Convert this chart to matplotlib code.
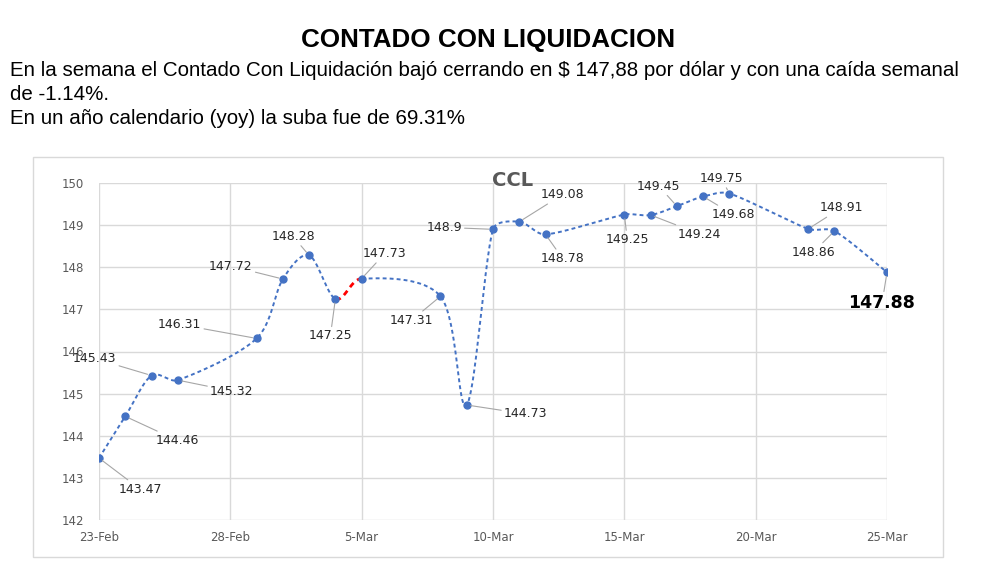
import numpy as np
import matplotlib
matplotlib.use("Agg")
import matplotlib.pyplot as plt
import matplotlib.dates as mdates
from matplotlib.patches import Rectangle
from matplotlib import font_manager

# ---------------- data ----------------
dates = ["2021-02-23", "2021-02-24", "2021-02-25", "2021-02-26", "2021-03-01",
         "2021-03-02", "2021-03-03", "2021-03-04", "2021-03-05", "2021-03-08",
         "2021-03-09", "2021-03-10", "2021-03-11", "2021-03-12", "2021-03-15",
         "2021-03-16", "2021-03-17", "2021-03-18", "2021-03-19", "2021-03-22",
         "2021-03-23", "2021-03-25"]
values = [143.47, 144.46, 145.43, 145.32, 146.31, 147.72, 148.28, 147.25, 147.73,
          147.31, 144.73, 148.9, 149.08, 148.78, 149.25, 149.24, 149.45, 149.68,
          149.75, 148.91, 148.86, 147.88]
value_labels = ["143.47", "144.46", "145.43", "145.32", "146.31", "147.72", "148.28",
                "147.25", "147.73", "147.31", "144.73", "148.9", "149.08", "148.78",
                "149.25", "149.24", "149.45", "149.68", "149.75", "148.91", "148.86",
                "147.88"]
tick_dates = ["2021-02-23", "2021-02-28", "2021-03-05", "2021-03-10",
              "2021-03-15", "2021-03-20", "2021-03-25"]
tick_labels = ["23-Feb", "28-Feb", "5-Mar", "10-Mar", "15-Mar", "20-Mar", "25-Mar"]
y_ticks = [142, 143, 144, 145, 146, 147, 148, 149, 150]
highlight_segment = 7  # segment from 4-Mar to 5-Mar drawn in red

title = "CONTADO CON LIQUIDACION"
body_lines = ["En la semana el Contado Con Liquidación bajó cerrando en $ 147,88 por dólar y con una caída semanal",
              "de -1.14%.",
              "En un año calendario (yoy) la suba fue de 69.31%"]
chart_title = "CCL"

# ---------------- layout (pixel offsets of labels) ----------------
label_offsets = [(41, -31), (52, -24), (-57, 17), (54, -11), (-77, 14), (-52, 13),
                 (-16, 19), (-5, -37), (23, 25), (-29, -24), (59, -9), (-49, 2),
                 (43, 27), (17, -24), (3, -25), (49, -19), (-18, 20), (30, -18),
                 (-8, 15), (33, 21), (-21, -21), (-5, -31)]

W, H = 981, 578
fig = plt.figure(figsize=(W / 100, H / 100), dpi=100)
fig.patch.set_facecolor("white")

names = {f.name for f in font_manager.fontManager.ttflist}
head_font = "Liberation Sans Narrow" if "Liberation Sans Narrow" in names else "Liberation Sans"
lab_font = "DejaVu Sans"

x = mdates.date2num(np.array(dates, dtype="datetime64[D]"))
xt = mdates.date2num(np.array(tick_dates, dtype="datetime64[D]"))

ax = fig.add_axes([99 / W, 1 - 520 / H, (887 - 99) / W, (520 - 183) / H])
ax.set_xlim(xt[0], xt[-1])
ax.set_ylim(142, 150)
ax.set_xticks(xt)
ax.set_xticklabels(tick_labels)
ax.set_yticks(y_ticks)
ax.tick_params(length=0, labelsize=8.5, colors="#595959", pad=8)
ax.tick_params(axis="y", pad=11)
for lab in ax.get_xticklabels() + ax.get_yticklabels():
    lab.set_fontfamily(lab_font)
for s in ax.spines.values():
    s.set_visible(False)
ax.grid(True, color="#d9d9d9", lw=1)
ax.set_axisbelow(True)

# smoothed curve (Catmull-Rom Bezier in display space, arms clamped to segment length)
pts = ax.transData.transform(np.column_stack([x, values]))
n = len(pts)


def clamp(v, m):
    d = np.hypot(*v)
    return v * (m / d) if d > m else v


segs = []
for i in range(n - 1):
    p0 = pts[i - 1] if i > 0 else pts[i]
    p1 = pts[i]
    p2 = pts[i + 1]
    p3 = pts[i + 2] if i + 2 < n else pts[i + 1]
    L = np.hypot(*(p2 - p1))
    c1 = p1 + clamp((p2 - p0) / 6.0, L / 3.0)
    c2 = p2 - clamp((p3 - p1) / 6.0, L / 3.0)
    t = np.linspace(0, 1, 40)[:, None]
    b = ((1 - t) ** 3) * p1 + 3 * ((1 - t) ** 2) * t * c1 + 3 * (1 - t) * t ** 2 * c2 + t ** 3 * p2
    segs.append(ax.transData.inverted().transform(b))

blue = "#4472C4"
before = np.vstack(segs[:highlight_segment])
after = np.vstack(segs[highlight_segment + 1:])
for seg in (before, after):
    ax.plot(seg[:, 0], seg[:, 1], color=blue, lw=1.4, dashes=(2.0, 1.6), zorder=2)
red = segs[highlight_segment]
ax.plot(red[:, 0], red[:, 1], color="#FF0000", lw=2.0, dashes=(2.0, 1.6), zorder=2)
ax.plot(x, values, "o", color=blue, ms=5, zorder=3)

for i, (xi, yi, lab) in enumerate(zip(x, values, value_labels)):
    last = i == n - 1
    ax.annotate(lab, (xi, yi), xytext=label_offsets[i], textcoords="offset pixels",
                ha="center", va="center",
                fontsize=12.5 if last else 9,
                fontweight="bold" if last else "normal",
                color="#000000" if last else "#262626",
                family=lab_font,
                arrowprops=dict(arrowstyle="-", color="#a6a6a6", lw=0.8,
                                shrinkA=0, shrinkB=3),
                zorder=4, annotation_clip=False)

fig.text(513 / W, 1 - 180 / H, chart_title, ha="center", va="center",
         fontsize=14, fontweight="bold", color="#595959", family=lab_font)

# outer chart border
fig.add_artist(Rectangle((33 / W, 1 - 557 / H), (943 - 33) / W, (557 - 157) / H,
                         transform=fig.transFigure, fill=False, edgecolor="#d9d9d9", lw=1))

# header texts fitted to their widths in the reference
renderer = fig.canvas.get_renderer()


def fitted(xpx, ypx, s, width_px, ha, **kw):
    t = fig.text(xpx / W, 1 - ypx / H, s, ha=ha, va="center", **kw)
    w = t.get_window_extent(renderer).width
    t.set_fontsize(t.get_fontsize() * width_px / w)
    return t


fitted(488, 40, title, 373, "center", fontsize=20, fontweight="bold", family=head_font, color="black")
t1 = fitted(10, 71, body_lines[0], 957, "left", fontsize=14, family=head_font, color="black")
fs = t1.get_fontsize()
fig.text(10 / W, 1 - 95 / H, body_lines[1], ha="left", va="center", fontsize=fs, family=head_font, color="black")
fig.text(10 / W, 1 - 119 / H, body_lines[2], ha="left", va="center", fontsize=fs, family=head_font, color="black")

fig.savefig("out.png", dpi=100, facecolor="white")
